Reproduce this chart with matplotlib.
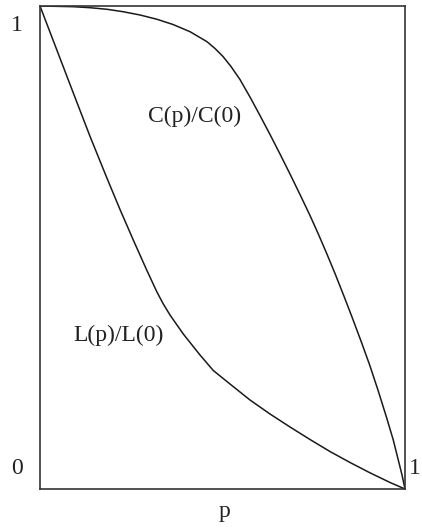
import matplotlib
matplotlib.use("Agg")
import matplotlib.pyplot as plt

# data
c_p = [0.0, 0.0904, 0.1370, 0.1836, 0.2274, 0.2740, 0.3205, 0.3644, 0.4110, 0.4575, 0.4795,
       0.5014, 0.5233, 0.5479, 0.5753, 0.6027, 0.6301, 0.6575, 0.6849, 0.7123, 0.7397,
       0.7625, 0.7855, 0.8082, 0.8310, 0.8548, 0.8789, 0.9027, 0.9268, 0.9499, 0.9679,
       0.9816, 0.9918, 1.0]
c_v = [1.0, 0.9986, 0.9965, 0.9932, 0.9882, 0.9814, 0.9725, 0.9617, 0.9468, 0.9261, 0.9120,
       0.8954, 0.8747, 0.8478, 0.8116, 0.7733, 0.7340, 0.6936, 0.6522, 0.6097, 0.5663,
       0.5280, 0.4876, 0.4462, 0.4027, 0.3561, 0.3075, 0.2578, 0.2029, 0.1470, 0.1014,
       0.0600, 0.0290, 0.0]

l_p = [0.0, 0.0986, 0.1370, 0.1827, 0.2192, 0.2556, 0.2923, 0.3197, 0.3370, 0.3562, 0.3926,
       0.4384, 0.4748, 0.5205, 0.5753, 0.6301, 0.6849, 0.7397, 0.7945, 0.8493, 0.9041,
       0.9589, 1.0]
l_v = [1.0, 0.8054, 0.7302, 0.6449, 0.5787, 0.5155, 0.4534, 0.4089, 0.3841, 0.3602, 0.3209,
       0.2774, 0.2453, 0.2174, 0.1843, 0.1553, 0.1284, 0.1025, 0.0776, 0.0549, 0.0335,
       0.0135, 0.0]

corner_labels = ["1", "0", "1"]
x_label = "p"
curve_labels = ["C(p)/C(0)", "L(p)/L(0)"]

W, H = 422, 529
fig = plt.figure(figsize=(W / 100, H / 100), dpi=100)
ax = fig.add_axes([40 / W, (H - 489) / H, (405 - 40) / W, (489 - 6) / H])

col = "#1a1a1a"
ax.plot(c_p, c_v, color=col, lw=1.1, solid_joinstyle="round")
ax.plot(l_p, l_v, color=col, lw=1.1, solid_joinstyle="round")
ax.set_xlim(0, 1)
ax.set_ylim(0, 1)
ax.set_xticks([])
ax.set_yticks([])
for s in ax.spines.values():
    s.set_linewidth(1.2)
    s.set_color("#333333")

font = dict(family="Liberation Serif", fontsize=17, color="#222222")

ax.annotate(corner_labels[0], xy=(0, 1), xycoords="data", xytext=(-23, -19),
            textcoords="offset pixels", ha="center", va="center", **font)
ax.annotate(corner_labels[1], xy=(0, 0), xycoords="data", xytext=(-23, 20),
            textcoords="offset pixels", ha="center", va="center", **font)
ax.annotate(corner_labels[2], xy=(1, 0), xycoords="data", xytext=(4, 20),
            textcoords="offset pixels", ha="left", va="center", annotation_clip=False, **font)
ax.annotate(x_label, xy=(0.5, 0), xycoords="data", xytext=(2, -22),
            textcoords="offset pixels", ha="center", va="center", **font)

ax.annotate(curve_labels[0], xy=(0.423, 0.772), xycoords="data", ha="center", va="center", **font)
ax.annotate(curve_labels[1], xy=(0.214, 0.319), xycoords="data", ha="center", va="center", **font)

fig.savefig("out.png", dpi=100)
